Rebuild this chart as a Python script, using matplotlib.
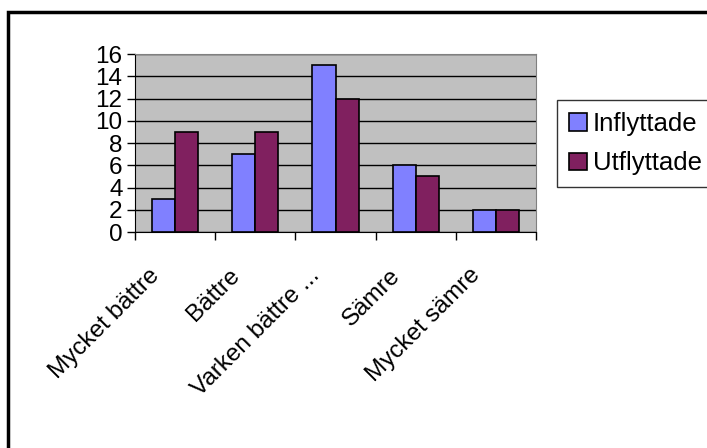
import numpy as np
import matplotlib.pyplot as plt
from matplotlib.patches import Rectangle

plt.rcParams['font.family'] = ['Liberation Sans', 'DejaVu Sans']

#%% Data
kategorier = ['Mycket bättre', 'Bättre', 'Varken bättre ...', 'Sämre', 'Mycket sämre']
inflyttade = [3, 7, 15, 6, 2]
utflyttade = [9, 9, 12, 5, 2]

#%% Figure
W, H = 707, 448
fig = plt.figure(figsize=(W/100, H/100), dpi=100)
ax = fig.add_axes([135/W, 1-232/H, (536-135)/W, (232-54)/H])

x = np.arange(len(kategorier))
w = 0.2875
ax.bar(x - w/2, inflyttade, w, color='#8080FF', edgecolor='black', linewidth=1.2,
       label='Inflyttade', zorder=3)
ax.bar(x + w/2, utflyttade, w, color='#80205F', edgecolor='black', linewidth=1.2,
       label='Utflyttade', zorder=3)

ax.set_facecolor('#C0C0C0')
ax.set_xlim(-0.5, len(kategorier)-0.5)
ax.set_ylim(0, 16)
ax.set_yticks(range(0, 17, 2))
ax.yaxis.grid(True, color='black', linewidth=1, zorder=1)
ax.set_axisbelow(True)

for s in ['top', 'right']:
    ax.spines[s].set_color('#808080')
for s in ['left', 'bottom']:
    ax.spines[s].set_color('black')

fs = 17.5
ax.tick_params(axis='y', labelsize=fs, length=6, width=1, direction='out', pad=3)
ax.set_xticks(np.arange(-0.5, len(kategorier), 1))
ax.set_xticklabels([])
ax.tick_params(axis='x', length=6, width=1, direction='out')

for i, k in enumerate(kategorier):
    ax.annotate(k, xy=(i, 0), xycoords='data', xytext=(-19, -40),
                textcoords='offset pixels', rotation=45, rotation_mode='anchor',
                ha='right', va='center', fontsize=fs)

leg = fig.legend(loc='upper left', bbox_to_anchor=(557/W, 1-100/H, 170/W, 0),
                 mode='expand', fontsize=18.5,
                 frameon=True, fancybox=False, edgecolor='black', borderpad=0.45,
                 handlelength=0.7, handleheight=0.7, handletextpad=0.25,
                 labelspacing=0.62, borderaxespad=0)
leg.get_frame().set_linewidth(1)

# outer chart border
fig.patches.append(Rectangle((8/W, -0.2), 1.2, 1.2-12/H, transform=fig.transFigure,
                             fill=False, edgecolor='black', linewidth=2.5))

fig.savefig('out.png', dpi=100)
